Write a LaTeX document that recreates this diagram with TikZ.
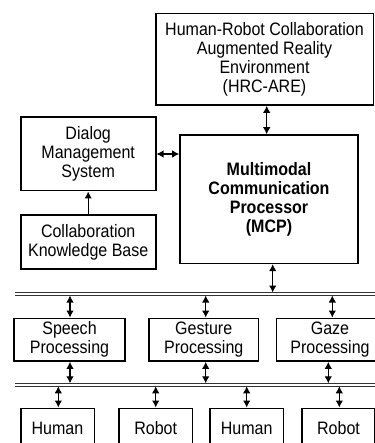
\documentclass[tikz,border=0pt]{standalone}
\usepackage{fontspec}
\setmainfont{Liberation Sans}
\newfontfamily\diagfont[FakeStretch=0.89]{Liberation Sans}
\usetikzlibrary{arrows.meta,positioning}

\tikzset{
  box/.style={draw, line width=1.6pt, align=center, inner sep=0pt,
    font=\diagfont\fontsize{18}{19}\selectfont},
  link/.style={line width=1.1pt, {Latex[length=7pt,width=7.5pt]}-{Latex[length=7pt,width=7.5pt]}},
  uplink/.style={line width=1.1pt, -{Latex[length=7pt,width=7.5pt]}},
  bus/.style={draw=black!80, double, double distance=2.2pt, line width=0.8pt},
  agent/.style={box, minimum height=40pt, text height=13pt, text depth=0pt},
}

\begin{document}
\begin{tikzpicture}[x=1pt,y=-1pt]
    \useasboundingbox (0,0) rectangle (374,443);

    \node[box, minimum width=217.6pt, minimum height=91.7pt] (HRC) at (264.5,59.2)
        {Human-Robot Collaboration\\Augmented Reality\\Environment\\(HRC-ARE)};
    \node[box, minimum width=178pt, minimum height=128.3pt,
          font=\diagfont\fontsize{18}{19}\selectfont\bfseries] (MCP) at (269,199.2)
        {Multimodal\\Communication\\Processor\\(MCP)};
    \node[box, minimum width=135pt, minimum height=73.4pt] (DMS) at (88.2,154)
        {Dialog\\Management\\System};
    \node[box, minimum width=135pt, minimum height=54pt] (CKB) at (88.2,242)
        {Collaboration\\Knowledge Base};

    % processing layer
    \node[box, minimum width=111pt, minimum height=42.7pt] (speech) at (69.5,339.7)
        {Speech\\Processing};
    \node[box, minimum width=109.3pt, minimum height=42.7pt] (gesture) at (203.7,339.7)
        {Gesture\\Processing};
    \node[box, minimum width=107pt, minimum height=42.7pt] (gaze) at (330,339.7)
        {Gaze\\Processing};

    % agents
    \node[agent, minimum width=73.6pt] (human1) at (57.5,428.3) {Human};
    \node[agent, minimum width=73.3pt] (robot1) at (155.7,428.3) {Robot};
    \node[agent, minimum width=73.3pt] (human2) at (246.7,428.3) {Human};
    \node[agent, minimum width=73.5pt] (robot2) at (338.5,428.3) {Robot};

    % buses
    \coordinate (busA) at (15,294);
    \coordinate (busAt) at (15,292.5);
    \coordinate (busAb) at (15,295.5);
    \coordinate (busB) at (15,384.8);
    \coordinate (busBt) at (15,383.3);
    \coordinate (busBb) at (15,386.3);
    \draw[bus] (busA) -- ++(380,0);
    \draw[bus] (busB) -- ++(380,0);

    \draw[link] (HRC.south -| 266.7,0) -- (MCP.north -| 266.7,0);
    \draw[link] (DMS.east) -- (DMS.east -| MCP.west);
    \draw[uplink] (CKB.north) -- (DMS.south);
    \draw[link] ([xshift=3.7pt]MCP.south) -- ([xshift=3.7pt]MCP.south |- busAt);

    \foreach \p/\s in {speech/0.5, gesture/2, gaze/2.3} {
        \draw[link] ([xshift=\s pt]\p.north |- busAb) -- ([xshift=\s pt]\p.north);
    }
    \foreach \p/\s in {speech/0.5, gesture/2, gaze/-1.7} {
        \draw[link] ([xshift=\s pt]\p.south) -- ([xshift=\s pt]\p.south |- busBt);
    }
    \foreach \a/\s in {human1/0.8, robot1/0, human2/0, robot2/0.8} {
        \draw[link] ([xshift=\s pt]\a.north |- busBb) -- ([xshift=\s pt]\a.north);
    }
\end{tikzpicture}
\end{document}
